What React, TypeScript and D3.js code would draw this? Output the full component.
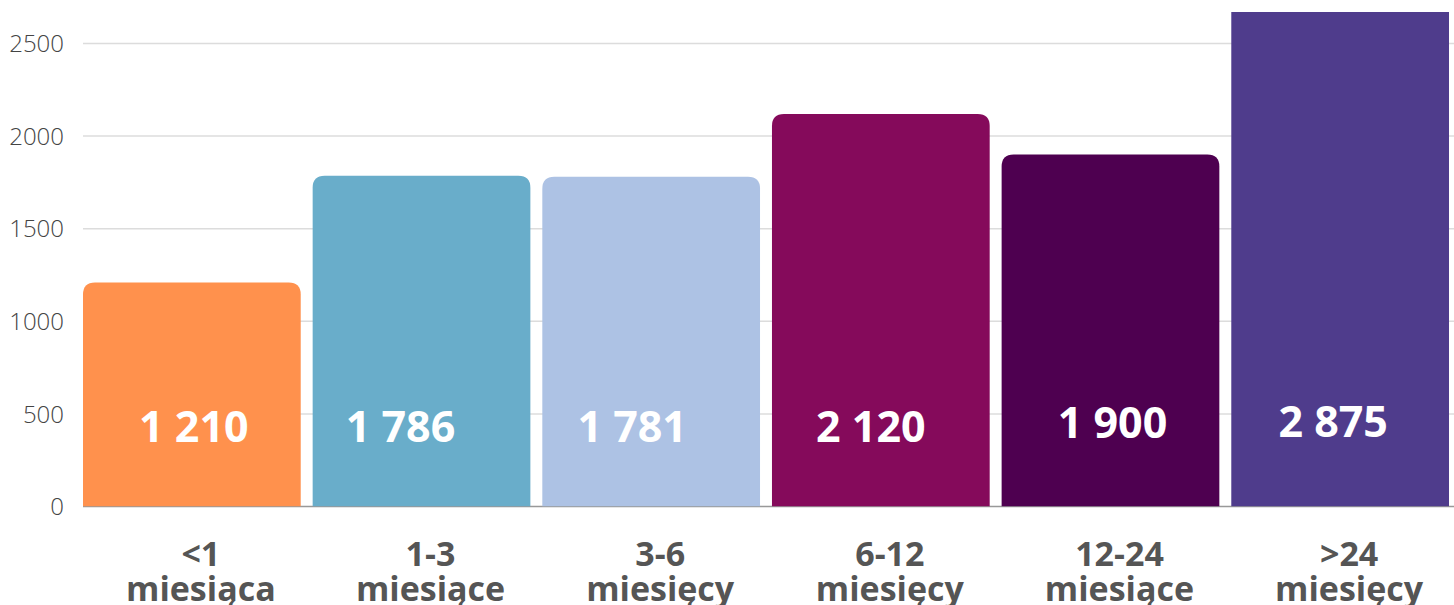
import React from 'react';
import * as d3 from 'd3';

const categories = ['<1|miesiąca', '1-3|miesiące', '3-6|miesięcy', '6-12|miesięcy', '12-24|miesiące', '>24|miesięcy'];
const values = [1210, 1786, 1781, 2120, 1900, 2875];
const valueLabels = ['1 210', '1 786', '1 781', '2 120', '1 900', '2 875'];
const colors = ['#ff914d', '#69adca', '#adc2e4', '#850a5b', '#4e0050', '#4f3c8c'];
const yTicks = [0, 500, 1000, 1500, 2000, 2500];

// hand placed value labels in the original, offsets from bar centre
const labelDx = [2, -21, -19, -10, 2, -7];
const labelDy = [0, 0, 0, 0, -4, -5];

const width = 1454;
const height = 605;
const margin = { left: 83, right: 5, top: 12 };
const font = '"Open Sans", sans-serif';

function barPath(x: number, y: number, w: number, h: number, r: number) {
  const rr = Math.min(r, h, w / 2);
  return `M${x},${y + h}V${y + rr}Q${x},${y} ${x + rr},${y}H${x + w - rr}Q${x + w},${y} ${x + w},${y + rr}V${y + h}Z`;
}

export default function App() {
  const x = d3.scaleBand<number>()
    .domain(d3.range(values.length))
    .range([margin.left, width - margin.right])
    .paddingInner(0.052)
    .paddingOuter(0);

  const y = d3.scaleLinear()
    .domain([0, 2500])
    .range([506.5, 43.5]);

  return (
    <svg width={width} height={height} style={{ position: 'absolute', left: 0, top: 0, background: '#fff' }}>
      <defs>
        <clipPath id="plot">
          <rect x={0} y={margin.top} width={width} height={y(0) - margin.top} />
        </clipPath>
      </defs>

      {yTicks.map(t => (
        <g key={t}>
          {t > 0 && (
            <line x1={margin.left} x2={width} y1={y(t)} y2={y(t)} stroke="#dcdcdc" strokeWidth={1.5} />
          )}
          <text x={64} y={y(t)} dy="0.36em" textAnchor="end" fontFamily={font} fontWeight={300}
            fontSize={24} fill="#444">{t}</text>
        </g>
      ))}

      <line x1={margin.left} x2={width} y1={y(0)} y2={y(0)} stroke="#999" strokeWidth={1.5} />

      <g clipPath="url(#plot)">
        {values.map((v, i) => (
          <path key={i}
            d={barPath(x(i)!, y(v), x.bandwidth(), y(0) - y(v), 12)}
            fill={colors[i]} />
        ))}
      </g>

      {valueLabels.map((lab, i) => (
        <text key={i} x={x(i)! + x.bandwidth() / 2 + labelDx[i]} y={442 + labelDy[i]}
          textAnchor="middle" fontFamily={font} fontWeight={700} fontSize={43} fill="#fff">{lab}</text>
      ))}

      {categories.map((c, i) => {
        const [l1, l2] = c.split('|');
        const cx = x(i)! + x.bandwidth() / 2 + 9;
        return (
          <text key={i} textAnchor="middle" fontFamily={font} fontWeight={700} fontSize={34} fill="#555">
            <tspan x={cx} y={566}>{l1}</tspan>
            <tspan x={cx} y={601}>{l2}</tspan>
          </text>
        );
      })}
    </svg>
  );
}
